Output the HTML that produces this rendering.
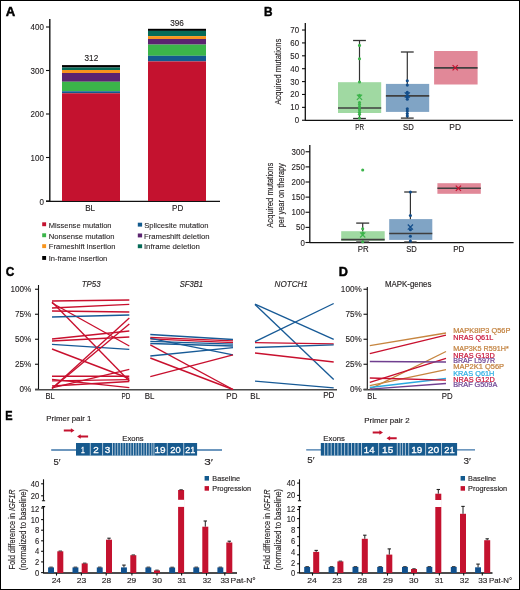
<!DOCTYPE html>
<html><head><meta charset="utf-8"><style>
html,body{margin:0;padding:0;background:#fff;}
body{width:520px;height:590px;overflow:hidden;}
svg{display:block;will-change:transform;}
text{font-family:"Liberation Sans",sans-serif;}
</style></head><body>
<svg width="520" height="590" viewBox="0 0 520 590">
<rect x="0" y="0" width="520" height="590" fill="#fff"/>
<text x="5.87" y="15.80" font-size="12.60" fill="#000" font-weight="bold" stroke="#000" stroke-width="0.45" textLength="9.47" lengthAdjust="spacingAndGlyphs">A</text>
<line x1="49.80" y1="19.00" x2="49.80" y2="201.80" stroke="#111" stroke-width="1.4" />
<line x1="46.00" y1="201.00" x2="49.80" y2="201.00" stroke="#111" stroke-width="1.1" />
<text x="39.46" y="204.80" font-size="8.60" fill="#231f20" stroke="#231f20" stroke-width="0.12" textLength="4.45" lengthAdjust="spacingAndGlyphs">0</text>
<line x1="46.00" y1="157.50" x2="49.80" y2="157.50" stroke="#111" stroke-width="1.1" />
<text x="30.57" y="160.60" font-size="8.60" fill="#231f20" stroke="#231f20" stroke-width="0.12" textLength="13.34" lengthAdjust="spacingAndGlyphs">100</text>
<line x1="46.00" y1="114.00" x2="49.80" y2="114.00" stroke="#111" stroke-width="1.1" />
<text x="30.57" y="117.00" font-size="8.60" fill="#231f20" stroke="#231f20" stroke-width="0.12" textLength="13.34" lengthAdjust="spacingAndGlyphs">200</text>
<line x1="46.00" y1="70.50" x2="49.80" y2="70.50" stroke="#111" stroke-width="1.1" />
<text x="30.57" y="73.50" font-size="8.60" fill="#231f20" stroke="#231f20" stroke-width="0.12" textLength="13.34" lengthAdjust="spacingAndGlyphs">300</text>
<line x1="46.00" y1="27.00" x2="49.80" y2="27.00" stroke="#111" stroke-width="1.1" />
<text x="30.57" y="30.00" font-size="8.60" fill="#231f20" stroke="#231f20" stroke-width="0.12" textLength="13.34" lengthAdjust="spacingAndGlyphs">400</text>
<line x1="46.00" y1="201.30" x2="220.00" y2="201.30" stroke="#111" stroke-width="1.25" />
<rect x="62.00" y="65.10" width="58.00" height="2.40" fill="#000" />
<rect x="62.00" y="67.50" width="58.00" height="2.50" fill="#066b58" />
<rect x="62.00" y="70.00" width="58.00" height="3.00" fill="#f7941d" />
<rect x="62.00" y="73.00" width="58.00" height="8.75" fill="#5b2470" />
<rect x="62.00" y="81.75" width="58.00" height="9.50" fill="#3bb54a" />
<rect x="62.00" y="91.25" width="58.00" height="2.00" fill="#135a8e" />
<rect x="62.00" y="93.25" width="58.00" height="107.75" fill="#c4122f" />
<rect x="148.00" y="28.80" width="58.00" height="2.10" fill="#000" />
<rect x="148.00" y="30.90" width="58.00" height="5.20" fill="#066b58" />
<rect x="148.00" y="36.10" width="58.00" height="2.90" fill="#f7941d" />
<rect x="148.00" y="39.00" width="58.00" height="5.60" fill="#5b2470" />
<rect x="148.00" y="44.60" width="58.00" height="11.20" fill="#3bb54a" />
<rect x="148.00" y="55.80" width="58.00" height="5.60" fill="#135a8e" />
<rect x="148.00" y="61.40" width="58.00" height="139.60" fill="#c4122f" />
<text x="84.54" y="61.30" font-size="8.60" fill="#231f20" stroke="#231f20" stroke-width="0.15" textLength="13.67" lengthAdjust="spacingAndGlyphs">312</text>
<text x="170.19" y="26.10" font-size="8.60" fill="#231f20" stroke="#231f20" stroke-width="0.15" textLength="13.67" lengthAdjust="spacingAndGlyphs">396</text>
<text x="85.13" y="211.00" font-size="9.00" fill="#231f20" stroke="#231f20" stroke-width="0.15" textLength="9.94" lengthAdjust="spacingAndGlyphs">BL</text>
<text x="172.04" y="211.00" font-size="9.00" fill="#231f20" stroke="#231f20" stroke-width="0.15" textLength="11.25" lengthAdjust="spacingAndGlyphs">PD</text>
<rect x="42.20" y="222.30" width="3.90" height="3.90" fill="#c4122f" />
<text x="48.78" y="227.50" font-size="7.80" fill="#231f20" stroke="#231f20" stroke-width="0.1" textLength="62.81" lengthAdjust="spacingAndGlyphs">Missense mutation</text>
<rect x="42.20" y="233.30" width="3.90" height="3.90" fill="#3bb54a" />
<text x="48.77" y="238.50" font-size="7.80" fill="#231f20" stroke="#231f20" stroke-width="0.1" textLength="65.72" lengthAdjust="spacingAndGlyphs">Nonsense mutation</text>
<rect x="42.20" y="244.20" width="3.90" height="3.90" fill="#f7941d" />
<text x="48.78" y="248.70" font-size="7.80" fill="#231f20" stroke="#231f20" stroke-width="0.1" textLength="66.62" lengthAdjust="spacingAndGlyphs">Frameshift insertion</text>
<rect x="42.20" y="256.00" width="3.90" height="3.90" fill="#000" />
<text x="48.71" y="260.60" font-size="7.80" fill="#231f20" stroke="#231f20" stroke-width="0.1" textLength="58.58" lengthAdjust="spacingAndGlyphs">In-frame insertion</text>
<rect x="137.80" y="222.70" width="4.30" height="3.90" fill="#135a8e" />
<text x="144.25" y="227.70" font-size="7.80" fill="#231f20" stroke="#231f20" stroke-width="0.1" textLength="64.24" lengthAdjust="spacingAndGlyphs">Splicesite mutation</text>
<rect x="137.80" y="233.50" width="4.30" height="3.90" fill="#5b2470" />
<text x="143.97" y="238.50" font-size="7.80" fill="#231f20" stroke="#231f20" stroke-width="0.1" textLength="65.53" lengthAdjust="spacingAndGlyphs">Frameshift deletion</text>
<rect x="137.80" y="244.30" width="4.30" height="3.90" fill="#066b58" />
<text x="143.88" y="248.70" font-size="7.80" fill="#231f20" stroke="#231f20" stroke-width="0.1" textLength="56.03" lengthAdjust="spacingAndGlyphs">Inframe deletion</text>
<text x="264.11" y="15.80" font-size="13.00" fill="#000" font-weight="bold" stroke="#000" stroke-width="0.45" textLength="8.53" lengthAdjust="spacingAndGlyphs">B</text>
<line x1="305.30" y1="23.00" x2="305.30" y2="120.80" stroke="#111" stroke-width="1.3" />
<line x1="302.00" y1="120.25" x2="305.30" y2="120.25" stroke="#111" stroke-width="1.1" />
<text x="294.71" y="123.25" font-size="8.50" fill="#231f20" stroke="#231f20" stroke-width="0.12" textLength="4.40" lengthAdjust="spacingAndGlyphs">0</text>
<line x1="302.00" y1="107.36" x2="305.30" y2="107.36" stroke="#111" stroke-width="1.1" />
<text x="290.32" y="110.36" font-size="8.50" fill="#231f20" stroke="#231f20" stroke-width="0.12" textLength="8.79" lengthAdjust="spacingAndGlyphs">10</text>
<line x1="302.00" y1="94.47" x2="305.30" y2="94.47" stroke="#111" stroke-width="1.1" />
<text x="290.32" y="97.47" font-size="8.50" fill="#231f20" stroke="#231f20" stroke-width="0.12" textLength="8.79" lengthAdjust="spacingAndGlyphs">20</text>
<line x1="302.00" y1="81.58" x2="305.30" y2="81.58" stroke="#111" stroke-width="1.1" />
<text x="290.32" y="84.58" font-size="8.50" fill="#231f20" stroke="#231f20" stroke-width="0.12" textLength="8.79" lengthAdjust="spacingAndGlyphs">30</text>
<line x1="302.00" y1="68.69" x2="305.30" y2="68.69" stroke="#111" stroke-width="1.1" />
<text x="290.32" y="71.69" font-size="8.50" fill="#231f20" stroke="#231f20" stroke-width="0.12" textLength="8.79" lengthAdjust="spacingAndGlyphs">40</text>
<line x1="302.00" y1="55.80" x2="305.30" y2="55.80" stroke="#111" stroke-width="1.1" />
<text x="290.32" y="58.80" font-size="8.50" fill="#231f20" stroke="#231f20" stroke-width="0.12" textLength="8.79" lengthAdjust="spacingAndGlyphs">50</text>
<line x1="302.00" y1="42.91" x2="305.30" y2="42.91" stroke="#111" stroke-width="1.1" />
<text x="290.32" y="45.91" font-size="8.50" fill="#231f20" stroke="#231f20" stroke-width="0.12" textLength="8.79" lengthAdjust="spacingAndGlyphs">60</text>
<line x1="302.00" y1="30.02" x2="305.30" y2="30.02" stroke="#111" stroke-width="1.1" />
<text x="290.32" y="33.02" font-size="8.50" fill="#231f20" stroke="#231f20" stroke-width="0.12" textLength="8.79" lengthAdjust="spacingAndGlyphs">70</text>
<line x1="305.00" y1="120.30" x2="513.00" y2="120.30" stroke="#111" stroke-width="1.3" />
<text transform="translate(281.10,104.80) rotate(-90)" x="-0.02" y="0" font-size="9.80" fill="#231f20" stroke="#231f20" stroke-width="0.15" textLength="66.19" lengthAdjust="spacingAndGlyphs">Acquired mutations</text>
<line x1="359.50" y1="40.50" x2="359.50" y2="118.50" stroke="#333" stroke-width="1.2" />
<line x1="353.10" y1="40.50" x2="365.90" y2="40.50" stroke="#333" stroke-width="1.3" />
<line x1="353.10" y1="118.50" x2="365.90" y2="118.50" stroke="#333" stroke-width="1.3" />
<rect x="338.00" y="82.20" width="43.20" height="30.80" fill="#a0d9a2" />
<line x1="338.00" y1="108.00" x2="381.20" y2="108.00" stroke="#3f3f3f" stroke-width="1.7" />
<circle cx="359.50" cy="45.40" r="1.55" fill="#3cb44b"/>
<circle cx="359.50" cy="58.80" r="1.55" fill="#3cb44b"/>
<circle cx="359.50" cy="82.00" r="1.55" fill="#3cb44b"/>
<circle cx="359.50" cy="95.30" r="1.55" fill="#3cb44b"/>
<circle cx="359.50" cy="102.50" r="1.55" fill="#3cb44b"/>
<circle cx="359.50" cy="104.60" r="1.55" fill="#3cb44b"/>
<circle cx="359.50" cy="107.10" r="1.55" fill="#3cb44b"/>
<circle cx="359.50" cy="109.70" r="1.55" fill="#3cb44b"/>
<circle cx="359.50" cy="112.20" r="1.55" fill="#3cb44b"/>
<circle cx="359.50" cy="114.20" r="1.55" fill="#3cb44b"/>
<circle cx="359.50" cy="118.10" r="1.55" fill="#3cb44b"/>
<path d="M356.90,94.70L362.10,99.90M356.90,99.90L362.10,94.70" stroke="#3cb44b" stroke-width="1.2"/>
<line x1="407.30" y1="52.00" x2="407.30" y2="118.10" stroke="#333" stroke-width="1.2" />
<line x1="400.90" y1="52.00" x2="413.70" y2="52.00" stroke="#333" stroke-width="1.3" />
<line x1="400.90" y1="118.10" x2="413.70" y2="118.10" stroke="#333" stroke-width="1.3" />
<rect x="385.90" y="83.90" width="43.30" height="28.00" fill="#80a4c5" />
<line x1="385.90" y1="95.90" x2="429.20" y2="95.90" stroke="#3f3f3f" stroke-width="1.7" />
<circle cx="407.30" cy="80.80" r="1.55" fill="#124d8a"/>
<circle cx="407.30" cy="85.10" r="1.55" fill="#124d8a"/>
<circle cx="407.30" cy="92.40" r="1.55" fill="#124d8a"/>
<circle cx="407.30" cy="97.30" r="1.55" fill="#124d8a"/>
<circle cx="407.30" cy="99.20" r="1.55" fill="#124d8a"/>
<circle cx="407.30" cy="108.80" r="1.55" fill="#124d8a"/>
<circle cx="407.30" cy="111.00" r="1.55" fill="#124d8a"/>
<circle cx="407.30" cy="113.60" r="1.55" fill="#124d8a"/>
<circle cx="407.30" cy="115.90" r="1.55" fill="#124d8a"/>
<path d="M404.70,92.30L409.90,97.50M404.70,97.50L409.90,92.30" stroke="#124d8a" stroke-width="1.2"/>
<rect x="434.10" y="51.00" width="43.50" height="33.50" fill="#e18898" />
<line x1="434.10" y1="67.80" x2="477.60" y2="67.80" stroke="#3f3f3f" stroke-width="1.7" />
<path d="M452.6,65.2L457.8,70.4M452.6,70.4L457.8,65.2" stroke="#c4122f" stroke-width="1.2"/>
<text x="355.23" y="130.20" font-size="9.00" fill="#231f20" stroke="#231f20" stroke-width="0.15" textLength="8.81" lengthAdjust="spacingAndGlyphs">PR</text>
<text x="403.05" y="130.20" font-size="9.00" fill="#231f20" stroke="#231f20" stroke-width="0.15" textLength="10.72" lengthAdjust="spacingAndGlyphs">SD</text>
<text x="449.31" y="130.20" font-size="9.00" fill="#231f20" stroke="#231f20" stroke-width="0.15" textLength="11.69" lengthAdjust="spacingAndGlyphs">PD</text>
<line x1="309.80" y1="145.00" x2="309.80" y2="243.00" stroke="#111" stroke-width="1.3" />
<line x1="305.50" y1="242.50" x2="309.80" y2="242.50" stroke="#111" stroke-width="1.1" />
<text x="300.41" y="245.50" font-size="8.50" fill="#231f20" stroke="#231f20" stroke-width="0.12" textLength="4.40" lengthAdjust="spacingAndGlyphs">0</text>
<line x1="305.50" y1="227.38" x2="309.80" y2="227.38" stroke="#111" stroke-width="1.1" />
<text x="296.02" y="230.38" font-size="8.50" fill="#231f20" stroke="#231f20" stroke-width="0.12" textLength="8.79" lengthAdjust="spacingAndGlyphs">50</text>
<line x1="305.50" y1="212.25" x2="309.80" y2="212.25" stroke="#111" stroke-width="1.1" />
<text x="291.62" y="215.25" font-size="8.50" fill="#231f20" stroke="#231f20" stroke-width="0.12" textLength="13.19" lengthAdjust="spacingAndGlyphs">100</text>
<line x1="305.50" y1="197.12" x2="309.80" y2="197.12" stroke="#111" stroke-width="1.1" />
<text x="291.62" y="200.12" font-size="8.50" fill="#231f20" stroke="#231f20" stroke-width="0.12" textLength="13.19" lengthAdjust="spacingAndGlyphs">150</text>
<line x1="305.50" y1="182.00" x2="309.80" y2="182.00" stroke="#111" stroke-width="1.1" />
<text x="291.62" y="185.00" font-size="8.50" fill="#231f20" stroke="#231f20" stroke-width="0.12" textLength="13.19" lengthAdjust="spacingAndGlyphs">200</text>
<line x1="305.50" y1="166.88" x2="309.80" y2="166.88" stroke="#111" stroke-width="1.1" />
<text x="291.62" y="169.88" font-size="8.50" fill="#231f20" stroke="#231f20" stroke-width="0.12" textLength="13.19" lengthAdjust="spacingAndGlyphs">250</text>
<line x1="305.50" y1="151.75" x2="309.80" y2="151.75" stroke="#111" stroke-width="1.1" />
<text x="291.62" y="154.75" font-size="8.50" fill="#231f20" stroke="#231f20" stroke-width="0.12" textLength="13.19" lengthAdjust="spacingAndGlyphs">300</text>
<line x1="309.50" y1="242.60" x2="513.60" y2="242.60" stroke="#111" stroke-width="1.3" />
<text transform="translate(272.70,227.70) rotate(-90)" x="-0.01" y="0" font-size="9.80" fill="#231f20" stroke="#231f20" stroke-width="0.15" textLength="65.09" lengthAdjust="spacingAndGlyphs">Acquired mutations</text>
<text transform="translate(284.20,226.80) rotate(-90)" x="-0.48" y="0" font-size="9.80" fill="#231f20" stroke="#231f20" stroke-width="0.15" textLength="64.09" lengthAdjust="spacingAndGlyphs">per year on therapy</text>
<line x1="362.70" y1="223.10" x2="362.70" y2="242.00" stroke="#333" stroke-width="1.2" />
<line x1="356.20" y1="223.10" x2="369.20" y2="223.10" stroke="#333" stroke-width="1.3" />
<line x1="356.20" y1="242.00" x2="369.20" y2="242.00" stroke="#333" stroke-width="1.3" />
<rect x="341.20" y="231.20" width="43.50" height="9.40" fill="#a0d9a2" />
<line x1="341.20" y1="239.70" x2="384.70" y2="239.70" stroke="#3f3f3f" stroke-width="1.7" />
<circle cx="362.70" cy="170.00" r="1.55" fill="#3cb44b"/>
<circle cx="362.70" cy="228.80" r="1.55" fill="#3cb44b"/>
<circle cx="362.70" cy="233.10" r="1.55" fill="#3cb44b"/>
<circle cx="362.70" cy="241.80" r="1.55" fill="#3cb44b"/>
<path d="M360.10,232.30L365.30,237.50M360.10,237.50L365.30,232.30" stroke="#3cb44b" stroke-width="1.2"/>
<line x1="410.40" y1="192.00" x2="410.40" y2="242.00" stroke="#333" stroke-width="1.2" />
<line x1="404.20" y1="192.00" x2="416.60" y2="192.00" stroke="#333" stroke-width="1.3" />
<line x1="404.20" y1="242.00" x2="416.60" y2="242.00" stroke="#333" stroke-width="1.3" />
<rect x="389.20" y="219.10" width="43.10" height="20.80" fill="#80a4c5" />
<line x1="389.20" y1="233.50" x2="432.30" y2="233.50" stroke="#3f3f3f" stroke-width="1.7" />
<circle cx="410.40" cy="192.00" r="1.55" fill="#124d8a"/>
<circle cx="410.40" cy="215.50" r="1.55" fill="#124d8a"/>
<circle cx="410.40" cy="229.70" r="1.55" fill="#124d8a"/>
<circle cx="410.40" cy="236.30" r="1.55" fill="#124d8a"/>
<circle cx="410.40" cy="241.00" r="1.55" fill="#124d8a"/>
<path d="M407.80,224.50L413.00,229.70M407.80,229.70L413.00,224.50" stroke="#124d8a" stroke-width="1.2"/>
<rect x="437.40" y="183.20" width="43.40" height="10.60" fill="#e18898" />
<line x1="437.40" y1="188.20" x2="480.80" y2="188.20" stroke="#3f3f3f" stroke-width="1.5" />
<path d="M455.8,185.6L461,190.8M455.8,190.8L461,185.6" stroke="#c4122f" stroke-width="1.2"/>
<text x="357.86" y="252.30" font-size="9.00" fill="#231f20" stroke="#231f20" stroke-width="0.15" textLength="10.91" lengthAdjust="spacingAndGlyphs">PR</text>
<text x="406.25" y="252.30" font-size="9.00" fill="#231f20" stroke="#231f20" stroke-width="0.15" textLength="10.61" lengthAdjust="spacingAndGlyphs">SD</text>
<text x="453.14" y="252.30" font-size="9.00" fill="#231f20" stroke="#231f20" stroke-width="0.15" textLength="11.25" lengthAdjust="spacingAndGlyphs">PD</text>
<text x="5.86" y="276.40" font-size="12.80" fill="#000" font-weight="bold" stroke="#000" stroke-width="0.45" textLength="8.56" lengthAdjust="spacingAndGlyphs">C</text>
<line x1="38.50" y1="285.00" x2="38.50" y2="390.00" stroke="#111" stroke-width="1.1" />
<line x1="35.00" y1="389.25" x2="38.50" y2="389.25" stroke="#111" stroke-width="1.1" />
<text x="19.56" y="392.25" font-size="8.80" fill="#231f20" stroke="#231f20" stroke-width="0.12" textLength="11.83" lengthAdjust="spacingAndGlyphs">0%</text>
<line x1="35.00" y1="364.25" x2="38.50" y2="364.25" stroke="#111" stroke-width="1.1" />
<text x="15.01" y="367.25" font-size="8.80" fill="#231f20" stroke="#231f20" stroke-width="0.12" textLength="16.38" lengthAdjust="spacingAndGlyphs">25%</text>
<line x1="35.00" y1="339.25" x2="38.50" y2="339.25" stroke="#111" stroke-width="1.1" />
<text x="15.01" y="342.25" font-size="8.80" fill="#231f20" stroke="#231f20" stroke-width="0.12" textLength="16.38" lengthAdjust="spacingAndGlyphs">50%</text>
<line x1="35.00" y1="314.25" x2="38.50" y2="314.25" stroke="#111" stroke-width="1.1" />
<text x="15.01" y="317.25" font-size="8.80" fill="#231f20" stroke="#231f20" stroke-width="0.12" textLength="16.38" lengthAdjust="spacingAndGlyphs">75%</text>
<line x1="35.00" y1="289.25" x2="38.50" y2="289.25" stroke="#111" stroke-width="1.1" />
<text x="10.46" y="292.25" font-size="8.80" fill="#231f20" stroke="#231f20" stroke-width="0.12" textLength="20.93" lengthAdjust="spacingAndGlyphs">100%</text>
<line x1="35.00" y1="389.80" x2="337.00" y2="389.80" stroke="#4a4a4a" stroke-width="1.5" />
<text x="81.79" y="286.80" font-size="9.10" fill="#231f20" font-style="italic" stroke="#231f20" stroke-width="0.15" textLength="18.77" lengthAdjust="spacingAndGlyphs">TP53</text>
<text x="179.78" y="286.80" font-size="9.10" fill="#231f20" font-style="italic" stroke="#231f20" stroke-width="0.15" textLength="23.36" lengthAdjust="spacingAndGlyphs">SF3B1</text>
<text x="274.55" y="287.20" font-size="9.10" fill="#231f20" font-style="italic" stroke="#231f20" stroke-width="0.15" textLength="33.33" lengthAdjust="spacingAndGlyphs">NOTCH1</text>
<text x="45.59" y="398.70" font-size="9.00" fill="#231f20" stroke="#231f20" stroke-width="0.15" textLength="9.16" lengthAdjust="spacingAndGlyphs">BL</text>
<text x="121.48" y="398.70" font-size="9.00" fill="#231f20" stroke="#231f20" stroke-width="0.15" textLength="8.83" lengthAdjust="spacingAndGlyphs">PD</text>
<text x="144.85" y="398.70" font-size="9.00" fill="#231f20" stroke="#231f20" stroke-width="0.15" textLength="9.66" lengthAdjust="spacingAndGlyphs">BL</text>
<text x="226.35" y="398.70" font-size="9.00" fill="#231f20" stroke="#231f20" stroke-width="0.15" textLength="11.03" lengthAdjust="spacingAndGlyphs">PD</text>
<text x="250.35" y="398.50" font-size="9.00" fill="#231f20" stroke="#231f20" stroke-width="0.15" textLength="9.72" lengthAdjust="spacingAndGlyphs">BL</text>
<text x="323.13" y="398.30" font-size="9.00" fill="#231f20" stroke="#231f20" stroke-width="0.15" textLength="11.36" lengthAdjust="spacingAndGlyphs">PD</text>
<line x1="52.00" y1="301.00" x2="129.30" y2="300.00" stroke="#c8102e" stroke-width="1.35" />
<line x1="52.00" y1="302.00" x2="129.30" y2="381.00" stroke="#c8102e" stroke-width="1.35" />
<line x1="52.00" y1="303.00" x2="129.30" y2="346.00" stroke="#c8102e" stroke-width="1.35" />
<line x1="52.00" y1="308.00" x2="129.30" y2="304.40" stroke="#c8102e" stroke-width="1.35" />
<line x1="52.00" y1="311.00" x2="129.30" y2="312.00" stroke="#c8102e" stroke-width="1.35" />
<line x1="52.00" y1="317.00" x2="129.30" y2="315.00" stroke="#175a96" stroke-width="1.35" />
<line x1="52.00" y1="339.00" x2="129.30" y2="331.00" stroke="#c8102e" stroke-width="1.35" />
<line x1="52.00" y1="341.00" x2="129.30" y2="337.00" stroke="#c8102e" stroke-width="1.35" />
<line x1="52.00" y1="344.30" x2="129.30" y2="349.40" stroke="#175a96" stroke-width="1.35" />
<line x1="52.00" y1="349.00" x2="129.30" y2="378.50" stroke="#c8102e" stroke-width="1.35" />
<line x1="52.00" y1="376.20" x2="129.30" y2="376.20" stroke="#c8102e" stroke-width="1.35" />
<line x1="52.00" y1="379.30" x2="129.30" y2="387.60" stroke="#c8102e" stroke-width="1.35" />
<line x1="52.00" y1="380.80" x2="129.30" y2="379.60" stroke="#c8102e" stroke-width="1.35" />
<line x1="52.00" y1="386.00" x2="129.30" y2="381.50" stroke="#c8102e" stroke-width="1.35" />
<line x1="52.00" y1="387.80" x2="129.30" y2="369.30" stroke="#c8102e" stroke-width="1.35" />
<line x1="52.00" y1="388.50" x2="129.30" y2="318.00" stroke="#c8102e" stroke-width="1.35" />
<line x1="52.00" y1="388.60" x2="129.30" y2="324.00" stroke="#c8102e" stroke-width="1.35" />
<line x1="150.30" y1="334.50" x2="233.00" y2="339.50" stroke="#175a96" stroke-width="1.35" />
<line x1="150.30" y1="337.30" x2="233.00" y2="340.80" stroke="#c8102e" stroke-width="1.35" />
<line x1="150.30" y1="338.80" x2="233.00" y2="342.60" stroke="#c8102e" stroke-width="1.35" />
<line x1="150.30" y1="338.30" x2="233.00" y2="354.90" stroke="#175a96" stroke-width="1.35" />
<line x1="150.30" y1="341.30" x2="233.00" y2="344.20" stroke="#175a96" stroke-width="1.35" />
<line x1="150.30" y1="343.50" x2="233.00" y2="346.00" stroke="#175a96" stroke-width="1.35" />
<line x1="150.30" y1="344.80" x2="233.00" y2="389.50" stroke="#c8102e" stroke-width="1.35" />
<line x1="150.30" y1="356.00" x2="233.00" y2="347.60" stroke="#175a96" stroke-width="1.35" />
<line x1="150.30" y1="358.00" x2="233.00" y2="389.50" stroke="#c8102e" stroke-width="1.35" />
<line x1="150.30" y1="376.70" x2="233.00" y2="354.90" stroke="#c8102e" stroke-width="1.35" />
<line x1="255.00" y1="304.10" x2="333.70" y2="339.40" stroke="#175a96" stroke-width="1.35" />
<line x1="255.00" y1="304.60" x2="333.70" y2="379.50" stroke="#175a96" stroke-width="1.35" />
<line x1="255.00" y1="341.60" x2="333.70" y2="303.50" stroke="#175a96" stroke-width="1.35" />
<line x1="255.00" y1="342.70" x2="333.70" y2="343.80" stroke="#c8102e" stroke-width="1.35" />
<line x1="255.00" y1="347.50" x2="333.70" y2="344.90" stroke="#175a96" stroke-width="1.35" />
<line x1="255.00" y1="353.00" x2="333.70" y2="362.00" stroke="#c8102e" stroke-width="1.35" />
<line x1="255.00" y1="381.20" x2="333.70" y2="387.80" stroke="#175a96" stroke-width="1.35" />
<text x="338.65" y="275.90" font-size="12.30" fill="#000" font-weight="bold" stroke="#000" stroke-width="0.45" textLength="9.18" lengthAdjust="spacingAndGlyphs">D</text>
<line x1="367.30" y1="287.00" x2="367.30" y2="390.00" stroke="#111" stroke-width="1.1" />
<line x1="363.50" y1="389.25" x2="367.30" y2="389.25" stroke="#111" stroke-width="1.1" />
<text x="349.96" y="392.25" font-size="8.80" fill="#231f20" stroke="#231f20" stroke-width="0.12" textLength="11.83" lengthAdjust="spacingAndGlyphs">0%</text>
<line x1="363.50" y1="364.25" x2="367.30" y2="364.25" stroke="#111" stroke-width="1.1" />
<text x="345.41" y="367.25" font-size="8.80" fill="#231f20" stroke="#231f20" stroke-width="0.12" textLength="16.38" lengthAdjust="spacingAndGlyphs">25%</text>
<line x1="363.50" y1="339.25" x2="367.30" y2="339.25" stroke="#111" stroke-width="1.1" />
<text x="345.41" y="342.25" font-size="8.80" fill="#231f20" stroke="#231f20" stroke-width="0.12" textLength="16.38" lengthAdjust="spacingAndGlyphs">50%</text>
<line x1="363.50" y1="314.25" x2="367.30" y2="314.25" stroke="#111" stroke-width="1.1" />
<text x="345.41" y="317.25" font-size="8.80" fill="#231f20" stroke="#231f20" stroke-width="0.12" textLength="16.38" lengthAdjust="spacingAndGlyphs">75%</text>
<line x1="363.50" y1="289.25" x2="367.30" y2="289.25" stroke="#111" stroke-width="1.1" />
<text x="340.86" y="292.25" font-size="8.80" fill="#231f20" stroke="#231f20" stroke-width="0.12" textLength="20.93" lengthAdjust="spacingAndGlyphs">100%</text>
<line x1="363.50" y1="389.80" x2="450.00" y2="389.80" stroke="#4a4a4a" stroke-width="1.5" />
<text x="384.95" y="286.80" font-size="8.70" fill="#231f20" stroke="#231f20" stroke-width="0.15" textLength="46.43" lengthAdjust="spacingAndGlyphs">MAPK-genes</text>
<text x="367.37" y="398.90" font-size="9.00" fill="#231f20" stroke="#231f20" stroke-width="0.15" textLength="9.38" lengthAdjust="spacingAndGlyphs">BL</text>
<text x="441.86" y="398.90" font-size="9.00" fill="#231f20" stroke="#231f20" stroke-width="0.15" textLength="10.81" lengthAdjust="spacingAndGlyphs">PD</text>
<line x1="369.80" y1="345.60" x2="446.00" y2="333.00" stroke="#c6853f" stroke-width="1.35" />
<line x1="369.80" y1="353.70" x2="446.00" y2="335.20" stroke="#c8102e" stroke-width="1.35" />
<line x1="369.80" y1="389.20" x2="446.00" y2="351.50" stroke="#c6853f" stroke-width="1.35" />
<line x1="369.80" y1="382.30" x2="446.00" y2="358.40" stroke="#c8102e" stroke-width="1.35" />
<line x1="369.80" y1="361.50" x2="446.00" y2="362.00" stroke="#6f3f8f" stroke-width="1.35" />
<line x1="369.80" y1="385.70" x2="446.00" y2="369.70" stroke="#c6853f" stroke-width="1.35" />
<line x1="369.80" y1="387.50" x2="446.00" y2="378.50" stroke="#29aae1" stroke-width="1.35" />
<line x1="369.80" y1="378.00" x2="446.00" y2="380.20" stroke="#c8102e" stroke-width="1.35" />
<line x1="369.80" y1="389.20" x2="446.00" y2="383.50" stroke="#6f3f8f" stroke-width="1.35" />
<text x="453.19" y="333.10" font-size="7.40" fill="#c3823f" stroke="#c3823f" stroke-width="0.22" textLength="57.20" lengthAdjust="spacingAndGlyphs">MAPK8IP3 Q56P</text>
<text x="453.20" y="339.50" font-size="7.40" fill="#c8163a" stroke="#c8163a" stroke-width="0.22" textLength="40.04" lengthAdjust="spacingAndGlyphs">NRAS Q61L</text>
<text x="453.21" y="351.25" font-size="7.40" fill="#c3823f" stroke="#c3823f" stroke-width="0.22" textLength="55.65" lengthAdjust="spacingAndGlyphs">MAP3K5 R591H*</text>
<text x="453.20" y="357.50" font-size="7.40" fill="#c8163a" stroke="#c8163a" stroke-width="0.22" textLength="41.55" lengthAdjust="spacingAndGlyphs">NRAS G13D</text>
<text x="453.22" y="363.40" font-size="7.40" fill="#6e4494" stroke="#6e4494" stroke-width="0.22" textLength="41.86" lengthAdjust="spacingAndGlyphs">BRAF L597R</text>
<text x="453.18" y="369.40" font-size="7.40" fill="#c3823f" stroke="#c3823f" stroke-width="0.22" textLength="50.96" lengthAdjust="spacingAndGlyphs">MAP2K1 Q56P</text>
<text x="453.20" y="375.60" font-size="7.40" fill="#2caee3" stroke="#2caee3" stroke-width="0.22" textLength="41.15" lengthAdjust="spacingAndGlyphs">KRAS Q61H</text>
<text x="453.20" y="381.50" font-size="7.40" fill="#c8163a" stroke="#c8163a" stroke-width="0.22" textLength="41.55" lengthAdjust="spacingAndGlyphs">NRAS G12D</text>
<text x="453.20" y="387.25" font-size="7.40" fill="#6e4494" stroke="#6e4494" stroke-width="0.22" textLength="44.06" lengthAdjust="spacingAndGlyphs">BRAF G509A</text>
<text x="5.33" y="420.10" font-size="12.40" fill="#000" font-weight="bold" stroke="#000" stroke-width="0.45" textLength="7.30" lengthAdjust="spacingAndGlyphs">E</text>
<line x1="51.20" y1="450.00" x2="222.00" y2="450.00" stroke="#3d74a8" stroke-width="1.3" />
<rect x="76.00" y="443.00" width="121.10" height="12.60" fill="#175a8e" />
<line x1="90.30" y1="443.00" x2="90.30" y2="455.60" stroke="#dfe8f0" stroke-width="0.75" />
<line x1="102.60" y1="443.00" x2="102.60" y2="455.60" stroke="#dfe8f0" stroke-width="0.75" />
<line x1="112.50" y1="443.00" x2="112.50" y2="455.60" stroke="#dfe8f0" stroke-width="0.75" />
<line x1="115.12" y1="443.00" x2="115.12" y2="455.60" stroke="#dfe8f0" stroke-width="0.75" />
<line x1="117.74" y1="443.00" x2="117.74" y2="455.60" stroke="#dfe8f0" stroke-width="0.75" />
<line x1="120.36" y1="443.00" x2="120.36" y2="455.60" stroke="#dfe8f0" stroke-width="0.75" />
<line x1="122.98" y1="443.00" x2="122.98" y2="455.60" stroke="#dfe8f0" stroke-width="0.75" />
<line x1="125.60" y1="443.00" x2="125.60" y2="455.60" stroke="#dfe8f0" stroke-width="0.75" />
<line x1="128.22" y1="443.00" x2="128.22" y2="455.60" stroke="#dfe8f0" stroke-width="0.75" />
<line x1="130.84" y1="443.00" x2="130.84" y2="455.60" stroke="#dfe8f0" stroke-width="0.75" />
<line x1="133.46" y1="443.00" x2="133.46" y2="455.60" stroke="#dfe8f0" stroke-width="0.75" />
<line x1="136.08" y1="443.00" x2="136.08" y2="455.60" stroke="#dfe8f0" stroke-width="0.75" />
<line x1="138.70" y1="443.00" x2="138.70" y2="455.60" stroke="#dfe8f0" stroke-width="0.75" />
<line x1="141.32" y1="443.00" x2="141.32" y2="455.60" stroke="#dfe8f0" stroke-width="0.75" />
<line x1="143.94" y1="443.00" x2="143.94" y2="455.60" stroke="#dfe8f0" stroke-width="0.75" />
<line x1="146.56" y1="443.00" x2="146.56" y2="455.60" stroke="#dfe8f0" stroke-width="0.75" />
<line x1="149.18" y1="443.00" x2="149.18" y2="455.60" stroke="#dfe8f0" stroke-width="0.75" />
<line x1="151.80" y1="443.00" x2="151.80" y2="455.60" stroke="#dfe8f0" stroke-width="0.75" />
<line x1="153.90" y1="443.00" x2="153.90" y2="455.60" stroke="#dfe8f0" stroke-width="0.75" />
<line x1="167.30" y1="443.00" x2="167.30" y2="455.60" stroke="#dfe8f0" stroke-width="0.75" />
<line x1="183.70" y1="443.00" x2="183.70" y2="455.60" stroke="#dfe8f0" stroke-width="0.75" />
<text x="80.99" y="452.70" font-size="9.60" fill="#fff" stroke="#fff" stroke-width="0.3" textLength="3.74" lengthAdjust="spacingAndGlyphs">1</text>
<text x="93.20" y="452.70" font-size="9.60" fill="#fff" stroke="#fff" stroke-width="0.3" textLength="5.49" lengthAdjust="spacingAndGlyphs">2</text>
<text x="104.87" y="452.70" font-size="9.60" fill="#fff" stroke="#fff" stroke-width="0.3" textLength="5.57" lengthAdjust="spacingAndGlyphs">3</text>
<text x="154.54" y="452.70" font-size="9.60" fill="#fff" stroke="#fff" stroke-width="0.3" textLength="11.14" lengthAdjust="spacingAndGlyphs">19</text>
<text x="170.23" y="452.70" font-size="9.60" fill="#fff" stroke="#fff" stroke-width="0.3" textLength="10.44" lengthAdjust="spacingAndGlyphs">20</text>
<text x="185.15" y="452.70" font-size="9.60" fill="#fff" stroke="#fff" stroke-width="0.3" textLength="9.99" lengthAdjust="spacingAndGlyphs">21</text>
<text x="46.35" y="421.00" font-size="8.00" fill="#231f20" stroke="#231f20" stroke-width="0.15" textLength="45.03" lengthAdjust="spacingAndGlyphs">Primer pair 1</text>
<text x="122.27" y="440.60" font-size="7.90" fill="#231f20" stroke="#231f20" stroke-width="0.15" textLength="21.41" lengthAdjust="spacingAndGlyphs">Exons</text>
<text x="53.52" y="464.70" font-size="9.70" fill="#231f20" stroke="#231f20" stroke-width="0.15" textLength="7.06" lengthAdjust="spacingAndGlyphs">5′</text>
<text x="204.25" y="464.70" font-size="9.70" fill="#231f20" stroke="#231f20" stroke-width="0.15" textLength="8.77" lengthAdjust="spacingAndGlyphs">3′</text>
<path d="M63.80,429.50H70.90V428.20L74.50,430.50L70.90,432.80V431.50H63.80Z" fill="#c4122f"/>
<path d="M88.10,435.50H80.70V434.20L77.10,436.50L80.70,438.80V437.50H88.10Z" fill="#c4122f"/>
<line x1="306.20" y1="449.80" x2="475.00" y2="449.80" stroke="#3d74a8" stroke-width="1.3" />
<rect x="320.80" y="443.00" width="136.30" height="12.60" fill="#175a8e" />
<line x1="324.60" y1="443.00" x2="324.60" y2="455.60" stroke="#dfe8f0" stroke-width="0.75" />
<line x1="327.90" y1="443.00" x2="327.90" y2="455.60" stroke="#dfe8f0" stroke-width="0.75" />
<line x1="331.20" y1="443.00" x2="331.20" y2="455.60" stroke="#dfe8f0" stroke-width="0.75" />
<line x1="334.60" y1="443.00" x2="334.60" y2="455.60" stroke="#dfe8f0" stroke-width="0.75" />
<line x1="337.90" y1="443.00" x2="337.90" y2="455.60" stroke="#dfe8f0" stroke-width="0.75" />
<line x1="341.30" y1="443.00" x2="341.30" y2="455.60" stroke="#dfe8f0" stroke-width="0.75" />
<line x1="344.60" y1="443.00" x2="344.60" y2="455.60" stroke="#dfe8f0" stroke-width="0.75" />
<line x1="348.10" y1="443.00" x2="348.10" y2="455.60" stroke="#dfe8f0" stroke-width="0.75" />
<line x1="351.50" y1="443.00" x2="351.50" y2="455.60" stroke="#dfe8f0" stroke-width="0.75" />
<line x1="354.80" y1="443.00" x2="354.80" y2="455.60" stroke="#dfe8f0" stroke-width="0.75" />
<line x1="358.10" y1="443.00" x2="358.10" y2="455.60" stroke="#dfe8f0" stroke-width="0.75" />
<line x1="361.50" y1="443.00" x2="361.50" y2="455.60" stroke="#dfe8f0" stroke-width="0.75" />
<line x1="378.60" y1="443.00" x2="378.60" y2="455.60" stroke="#dfe8f0" stroke-width="0.75" />
<line x1="397.30" y1="443.00" x2="397.30" y2="455.60" stroke="#dfe8f0" stroke-width="0.75" />
<line x1="400.20" y1="443.00" x2="400.20" y2="455.60" stroke="#dfe8f0" stroke-width="0.75" />
<line x1="402.60" y1="443.00" x2="402.60" y2="455.60" stroke="#dfe8f0" stroke-width="0.75" />
<line x1="405.40" y1="443.00" x2="405.40" y2="455.60" stroke="#dfe8f0" stroke-width="0.75" />
<line x1="408.70" y1="443.00" x2="408.70" y2="455.60" stroke="#dfe8f0" stroke-width="0.75" />
<line x1="425.60" y1="443.00" x2="425.60" y2="455.60" stroke="#dfe8f0" stroke-width="0.75" />
<line x1="441.50" y1="443.00" x2="441.50" y2="455.60" stroke="#dfe8f0" stroke-width="0.75" />
<text x="363.87" y="452.70" font-size="9.60" fill="#fff" stroke="#fff" stroke-width="0.3" textLength="10.61" lengthAdjust="spacingAndGlyphs">14</text>
<text x="382.14" y="452.70" font-size="9.60" fill="#fff" stroke="#fff" stroke-width="0.3" textLength="11.08" lengthAdjust="spacingAndGlyphs">15</text>
<text x="411.15" y="452.70" font-size="9.60" fill="#fff" stroke="#fff" stroke-width="0.3" textLength="11.02" lengthAdjust="spacingAndGlyphs">19</text>
<text x="427.78" y="452.70" font-size="9.60" fill="#fff" stroke="#fff" stroke-width="0.3" textLength="11.53" lengthAdjust="spacingAndGlyphs">20</text>
<text x="444.23" y="452.70" font-size="9.60" fill="#fff" stroke="#fff" stroke-width="0.3" textLength="10.43" lengthAdjust="spacingAndGlyphs">21</text>
<text x="364.35" y="422.80" font-size="8.00" fill="#231f20" stroke="#231f20" stroke-width="0.15" textLength="45.25" lengthAdjust="spacingAndGlyphs">Primer pair 2</text>
<text x="323.36" y="440.60" font-size="7.90" fill="#231f20" stroke="#231f20" stroke-width="0.15" textLength="21.51" lengthAdjust="spacingAndGlyphs">Exons</text>
<text x="307.31" y="462.90" font-size="9.70" fill="#231f20" stroke="#231f20" stroke-width="0.15" textLength="7.28" lengthAdjust="spacingAndGlyphs">5′</text>
<text x="463.62" y="463.70" font-size="9.70" fill="#231f20" stroke="#231f20" stroke-width="0.15" textLength="7.37" lengthAdjust="spacingAndGlyphs">3′</text>
<path d="M372.70,431.50H379.40V430.20L383.00,432.50L379.40,434.80V433.50H372.70Z" fill="#c4122f"/>
<path d="M396.70,437.30H390.10V436.00L386.50,438.30L390.10,440.60V439.30H396.70Z" fill="#c4122f"/>
<line x1="43.50" y1="479.30" x2="43.50" y2="500.80" stroke="#111" stroke-width="1.1" />
<line x1="43.50" y1="506.60" x2="43.50" y2="573.50" stroke="#111" stroke-width="1.1" />
<path d="M41.90,500.80H45.10M41.90,506.60H45.10" stroke="#111" stroke-width="1.1"/>
<line x1="41.10" y1="483.80" x2="43.50" y2="483.80" stroke="#111" stroke-width="1.1" />
<text x="30.72" y="486.70" font-size="8.20" fill="#231f20" stroke="#231f20" stroke-width="0.12" textLength="8.48" lengthAdjust="spacingAndGlyphs">40</text>
<line x1="41.10" y1="495.80" x2="43.50" y2="495.80" stroke="#111" stroke-width="1.1" />
<text x="30.72" y="498.70" font-size="8.20" fill="#231f20" stroke="#231f20" stroke-width="0.12" textLength="8.48" lengthAdjust="spacingAndGlyphs">20</text>
<line x1="41.10" y1="508.00" x2="43.50" y2="508.00" stroke="#111" stroke-width="1.1" />
<line x1="41.10" y1="519.60" x2="43.50" y2="519.60" stroke="#111" stroke-width="1.1" />
<line x1="41.10" y1="530.20" x2="43.50" y2="530.20" stroke="#111" stroke-width="1.1" />
<line x1="41.10" y1="540.80" x2="43.50" y2="540.80" stroke="#111" stroke-width="1.1" />
<line x1="41.10" y1="551.30" x2="43.50" y2="551.30" stroke="#111" stroke-width="1.1" />
<line x1="41.10" y1="561.90" x2="43.50" y2="561.90" stroke="#111" stroke-width="1.1" />
<line x1="41.10" y1="572.60" x2="43.50" y2="572.60" stroke="#111" stroke-width="1.1" />
<text x="30.80" y="511.90" font-size="8.20" fill="#231f20" stroke="#231f20" stroke-width="0.12" textLength="8.48" lengthAdjust="spacingAndGlyphs">12</text>
<text x="30.72" y="522.70" font-size="8.20" fill="#231f20" stroke="#231f20" stroke-width="0.12" textLength="8.48" lengthAdjust="spacingAndGlyphs">10</text>
<text x="34.99" y="533.30" font-size="8.20" fill="#231f20" stroke="#231f20" stroke-width="0.12" textLength="4.24" lengthAdjust="spacingAndGlyphs">8</text>
<text x="34.99" y="544.00" font-size="8.20" fill="#231f20" stroke="#231f20" stroke-width="0.12" textLength="4.24" lengthAdjust="spacingAndGlyphs">6</text>
<text x="34.88" y="554.20" font-size="8.20" fill="#231f20" stroke="#231f20" stroke-width="0.12" textLength="4.24" lengthAdjust="spacingAndGlyphs">4</text>
<text x="35.04" y="564.80" font-size="8.20" fill="#231f20" stroke="#231f20" stroke-width="0.12" textLength="4.24" lengthAdjust="spacingAndGlyphs">2</text>
<text x="34.96" y="575.50" font-size="8.20" fill="#231f20" stroke="#231f20" stroke-width="0.12" textLength="4.24" lengthAdjust="spacingAndGlyphs">0</text>
<line x1="43.50" y1="573.00" x2="237.00" y2="573.00" stroke="#111" stroke-width="1.3" />
<rect x="48.10" y="567.40" width="5.90" height="5.60" fill="#10508d" />
<line x1="49.30" y1="567.10" x2="52.80" y2="567.10" stroke="#222" stroke-width="0.9" />
<rect x="57.30" y="551.30" width="6.00" height="21.70" fill="#c4122f" />
<line x1="58.60" y1="551.00" x2="62.00" y2="551.00" stroke="#222" stroke-width="0.9" />
<rect x="72.50" y="567.40" width="5.90" height="5.60" fill="#10508d" />
<line x1="73.70" y1="567.10" x2="77.20" y2="567.10" stroke="#222" stroke-width="0.9" />
<rect x="81.70" y="563.40" width="6.00" height="9.60" fill="#c4122f" />
<line x1="83.00" y1="563.10" x2="86.40" y2="563.10" stroke="#222" stroke-width="0.9" />
<rect x="96.80" y="567.40" width="5.90" height="5.60" fill="#10508d" />
<line x1="98.00" y1="567.10" x2="101.50" y2="567.10" stroke="#222" stroke-width="0.9" />
<rect x="106.00" y="539.70" width="6.00" height="33.30" fill="#c4122f" />
<line x1="109.00" y1="538.20" x2="109.00" y2="539.70" stroke="#222" stroke-width="1" />
<line x1="107.30" y1="538.20" x2="110.70" y2="538.20" stroke="#222" stroke-width="1.1" />
<rect x="121.00" y="567.40" width="5.90" height="5.60" fill="#10508d" />
<line x1="123.95" y1="565.10" x2="123.95" y2="567.40" stroke="#222" stroke-width="1" />
<line x1="122.20" y1="565.10" x2="125.70" y2="565.10" stroke="#222" stroke-width="1.1" />
<rect x="130.30" y="555.20" width="6.00" height="17.80" fill="#c4122f" />
<line x1="131.60" y1="554.90" x2="135.00" y2="554.90" stroke="#222" stroke-width="0.9" />
<rect x="145.40" y="567.40" width="5.90" height="5.60" fill="#10508d" />
<line x1="146.60" y1="567.10" x2="150.10" y2="567.10" stroke="#222" stroke-width="0.9" />
<rect x="154.00" y="570.40" width="6.00" height="2.60" fill="#c4122f" />
<line x1="155.30" y1="570.10" x2="158.70" y2="570.10" stroke="#222" stroke-width="0.9" />
<rect x="169.20" y="567.50" width="5.90" height="5.50" fill="#10508d" />
<line x1="170.40" y1="567.20" x2="173.90" y2="567.20" stroke="#222" stroke-width="0.9" />
<rect x="178.10" y="490.00" width="6.00" height="83.00" fill="#c4122f" />
<line x1="179.40" y1="489.70" x2="182.80" y2="489.70" stroke="#222" stroke-width="0.9" />
<rect x="177.60" y="499.80" width="7.00" height="7.10" fill="#fff" />
<rect x="193.30" y="567.40" width="5.90" height="5.60" fill="#10508d" />
<line x1="194.50" y1="567.10" x2="198.00" y2="567.10" stroke="#222" stroke-width="0.9" />
<rect x="202.30" y="526.70" width="6.00" height="46.30" fill="#c4122f" />
<line x1="205.30" y1="521.00" x2="205.30" y2="526.70" stroke="#222" stroke-width="1" />
<line x1="203.60" y1="521.00" x2="207.00" y2="521.00" stroke="#222" stroke-width="1.1" />
<rect x="217.40" y="567.40" width="5.90" height="5.60" fill="#10508d" />
<line x1="218.60" y1="567.10" x2="222.10" y2="567.10" stroke="#222" stroke-width="0.9" />
<rect x="226.30" y="542.50" width="6.00" height="30.50" fill="#c4122f" />
<line x1="229.30" y1="541.20" x2="229.30" y2="542.50" stroke="#222" stroke-width="1" />
<line x1="227.60" y1="541.20" x2="231.00" y2="541.20" stroke="#222" stroke-width="1.1" />
<line x1="56.50" y1="573.00" x2="56.50" y2="575.60" stroke="#111" stroke-width="1.1" />
<line x1="81.40" y1="573.00" x2="81.40" y2="575.60" stroke="#111" stroke-width="1.1" />
<line x1="106.20" y1="573.00" x2="106.20" y2="575.60" stroke="#111" stroke-width="1.1" />
<line x1="131.90" y1="573.00" x2="131.90" y2="575.60" stroke="#111" stroke-width="1.1" />
<line x1="157.00" y1="573.00" x2="157.00" y2="575.60" stroke="#111" stroke-width="1.1" />
<line x1="181.60" y1="573.00" x2="181.60" y2="575.60" stroke="#111" stroke-width="1.1" />
<line x1="206.50" y1="573.00" x2="206.50" y2="575.60" stroke="#111" stroke-width="1.1" />
<line x1="224.80" y1="573.00" x2="224.80" y2="575.60" stroke="#111" stroke-width="1.1" />
<text x="51.68" y="583.20" font-size="8.10" fill="#231f20" stroke="#231f20" stroke-width="0.15" textLength="9.37" lengthAdjust="spacingAndGlyphs">24</text>
<text x="76.87" y="583.20" font-size="8.10" fill="#231f20" stroke="#231f20" stroke-width="0.15" textLength="9.51" lengthAdjust="spacingAndGlyphs">23</text>
<text x="101.78" y="583.20" font-size="8.10" fill="#231f20" stroke="#231f20" stroke-width="0.15" textLength="9.28" lengthAdjust="spacingAndGlyphs">28</text>
<text x="126.98" y="583.20" font-size="8.10" fill="#231f20" stroke="#231f20" stroke-width="0.15" textLength="9.32" lengthAdjust="spacingAndGlyphs">29</text>
<text x="152.37" y="583.20" font-size="8.10" fill="#231f20" stroke="#231f20" stroke-width="0.15" textLength="9.56" lengthAdjust="spacingAndGlyphs">30</text>
<text x="177.40" y="583.20" font-size="8.10" fill="#231f20" stroke="#231f20" stroke-width="0.15" textLength="8.90" lengthAdjust="spacingAndGlyphs">31</text>
<text x="202.71" y="583.20" font-size="8.10" fill="#231f20" stroke="#231f20" stroke-width="0.15" textLength="8.58" lengthAdjust="spacingAndGlyphs">32</text>
<text x="220.39" y="583.20" font-size="8.10" fill="#231f20" stroke="#231f20" stroke-width="0.15" textLength="8.96" lengthAdjust="spacingAndGlyphs">33</text>
<rect x="204.60" y="476.00" width="4.40" height="4.60" fill="#135a8e" />
<text x="212.31" y="481.20" font-size="7.60" fill="#231f20" stroke="#231f20" stroke-width="0.15" textLength="27.82" lengthAdjust="spacingAndGlyphs">Baseline</text>
<rect x="204.60" y="486.10" width="4.40" height="4.60" fill="#c4122f" />
<text x="212.30" y="491.40" font-size="7.60" fill="#231f20" stroke="#231f20" stroke-width="0.15" textLength="38.87" lengthAdjust="spacingAndGlyphs">Progression</text>
<text x="230.60" y="583.20" font-size="8.10" fill="#231f20" stroke="#231f20" stroke-width="0.15" textLength="25.11" lengthAdjust="spacingAndGlyphs">Pat-N°</text>
<text transform="translate(14.70,569.00) rotate(-90)" x="-0.60" y="0" font-size="9.60" fill="#231f20" stroke="#231f20" stroke-width="0.15" textLength="80.25" lengthAdjust="spacingAndGlyphs">Fold difference in <tspan font-style="italic">IGF1R</tspan></text>
<text transform="translate(26.30,569.90) rotate(-90)" x="-0.47" y="0" font-size="9.60" fill="#231f20" stroke="#231f20" stroke-width="0.15" textLength="81.45" lengthAdjust="spacingAndGlyphs">(normalized to baseline)</text>
<line x1="299.50" y1="479.30" x2="299.50" y2="500.80" stroke="#111" stroke-width="1.1" />
<line x1="299.50" y1="506.60" x2="299.50" y2="573.50" stroke="#111" stroke-width="1.1" />
<path d="M297.90,500.80H301.10M297.90,506.60H301.10" stroke="#111" stroke-width="1.1"/>
<line x1="297.10" y1="483.10" x2="299.50" y2="483.10" stroke="#111" stroke-width="1.1" />
<text x="286.72" y="486.00" font-size="8.20" fill="#231f20" stroke="#231f20" stroke-width="0.12" textLength="8.48" lengthAdjust="spacingAndGlyphs">40</text>
<line x1="297.10" y1="495.40" x2="299.50" y2="495.40" stroke="#111" stroke-width="1.1" />
<text x="286.72" y="498.30" font-size="8.20" fill="#231f20" stroke="#231f20" stroke-width="0.12" textLength="8.48" lengthAdjust="spacingAndGlyphs">20</text>
<line x1="297.10" y1="509.50" x2="299.50" y2="509.50" stroke="#111" stroke-width="1.1" />
<line x1="297.10" y1="518.60" x2="299.50" y2="518.60" stroke="#111" stroke-width="1.1" />
<line x1="297.10" y1="527.60" x2="299.50" y2="527.60" stroke="#111" stroke-width="1.1" />
<line x1="297.10" y1="536.70" x2="299.50" y2="536.70" stroke="#111" stroke-width="1.1" />
<line x1="297.10" y1="545.70" x2="299.50" y2="545.70" stroke="#111" stroke-width="1.1" />
<line x1="297.10" y1="554.80" x2="299.50" y2="554.80" stroke="#111" stroke-width="1.1" />
<line x1="297.10" y1="563.80" x2="299.50" y2="563.80" stroke="#111" stroke-width="1.1" />
<line x1="297.10" y1="572.80" x2="299.50" y2="572.80" stroke="#111" stroke-width="1.1" />
<text x="286.80" y="512.20" font-size="8.20" fill="#231f20" stroke="#231f20" stroke-width="0.12" textLength="8.48" lengthAdjust="spacingAndGlyphs">12</text>
<text x="286.72" y="521.90" font-size="8.20" fill="#231f20" stroke="#231f20" stroke-width="0.12" textLength="8.48" lengthAdjust="spacingAndGlyphs">10</text>
<text x="290.99" y="532.50" font-size="8.20" fill="#231f20" stroke="#231f20" stroke-width="0.12" textLength="4.24" lengthAdjust="spacingAndGlyphs">8</text>
<text x="290.99" y="543.60" font-size="8.20" fill="#231f20" stroke="#231f20" stroke-width="0.12" textLength="4.24" lengthAdjust="spacingAndGlyphs">6</text>
<text x="290.88" y="555.10" font-size="8.20" fill="#231f20" stroke="#231f20" stroke-width="0.12" textLength="4.24" lengthAdjust="spacingAndGlyphs">4</text>
<text x="291.04" y="565.50" font-size="8.20" fill="#231f20" stroke="#231f20" stroke-width="0.12" textLength="4.24" lengthAdjust="spacingAndGlyphs">2</text>
<text x="290.96" y="575.70" font-size="8.20" fill="#231f20" stroke="#231f20" stroke-width="0.12" textLength="4.24" lengthAdjust="spacingAndGlyphs">0</text>
<line x1="299.50" y1="573.00" x2="492.50" y2="573.00" stroke="#111" stroke-width="1.3" />
<rect x="304.20" y="566.90" width="5.90" height="6.10" fill="#10508d" />
<line x1="305.40" y1="566.60" x2="308.90" y2="566.60" stroke="#222" stroke-width="0.9" />
<rect x="313.20" y="551.90" width="6.00" height="21.10" fill="#c4122f" />
<line x1="316.20" y1="550.40" x2="316.20" y2="551.90" stroke="#222" stroke-width="1" />
<line x1="314.50" y1="550.40" x2="317.90" y2="550.40" stroke="#222" stroke-width="1.1" />
<rect x="328.60" y="566.90" width="5.90" height="6.10" fill="#10508d" />
<line x1="329.80" y1="566.60" x2="333.30" y2="566.60" stroke="#222" stroke-width="0.9" />
<rect x="337.40" y="561.40" width="6.00" height="11.60" fill="#c4122f" />
<line x1="338.70" y1="561.10" x2="342.10" y2="561.10" stroke="#222" stroke-width="0.9" />
<rect x="352.50" y="566.90" width="5.90" height="6.10" fill="#10508d" />
<line x1="353.70" y1="566.60" x2="357.20" y2="566.60" stroke="#222" stroke-width="0.9" />
<rect x="361.80" y="538.80" width="6.00" height="34.20" fill="#c4122f" />
<line x1="364.80" y1="535.20" x2="364.80" y2="538.80" stroke="#222" stroke-width="1" />
<line x1="363.10" y1="535.20" x2="366.50" y2="535.20" stroke="#222" stroke-width="1.1" />
<rect x="377.20" y="566.90" width="5.90" height="6.10" fill="#10508d" />
<line x1="378.40" y1="566.60" x2="381.90" y2="566.60" stroke="#222" stroke-width="0.9" />
<rect x="386.30" y="554.60" width="6.00" height="18.40" fill="#c4122f" />
<line x1="389.30" y1="548.90" x2="389.30" y2="554.60" stroke="#222" stroke-width="1" />
<line x1="387.60" y1="548.90" x2="391.00" y2="548.90" stroke="#222" stroke-width="1.1" />
<rect x="402.00" y="566.90" width="5.90" height="6.10" fill="#10508d" />
<line x1="403.20" y1="566.60" x2="406.70" y2="566.60" stroke="#222" stroke-width="0.9" />
<rect x="411.00" y="569.00" width="6.00" height="4.00" fill="#c4122f" />
<line x1="412.30" y1="568.70" x2="415.70" y2="568.70" stroke="#222" stroke-width="0.9" />
<rect x="426.40" y="566.90" width="5.90" height="6.10" fill="#10508d" />
<line x1="427.60" y1="566.60" x2="431.10" y2="566.60" stroke="#222" stroke-width="0.9" />
<rect x="435.30" y="493.70" width="6.00" height="79.30" fill="#c4122f" />
<line x1="438.30" y1="489.50" x2="438.30" y2="493.70" stroke="#222" stroke-width="1" />
<line x1="436.60" y1="489.50" x2="440.00" y2="489.50" stroke="#222" stroke-width="1.1" />
<rect x="434.80" y="500.00" width="7.00" height="7.00" fill="#fff" />
<rect x="450.80" y="566.90" width="5.90" height="6.10" fill="#10508d" />
<line x1="452.00" y1="566.60" x2="455.50" y2="566.60" stroke="#222" stroke-width="0.9" />
<rect x="460.00" y="513.80" width="6.00" height="59.20" fill="#c4122f" />
<line x1="463.00" y1="506.40" x2="463.00" y2="513.80" stroke="#222" stroke-width="1" />
<line x1="461.30" y1="506.40" x2="464.70" y2="506.40" stroke="#222" stroke-width="1.1" />
<rect x="475.10" y="567.30" width="5.90" height="5.70" fill="#10508d" />
<line x1="478.05" y1="564.10" x2="478.05" y2="567.30" stroke="#222" stroke-width="1" />
<line x1="476.30" y1="564.10" x2="479.80" y2="564.10" stroke="#222" stroke-width="1.1" />
<rect x="484.20" y="540.20" width="6.00" height="32.80" fill="#c4122f" />
<line x1="487.20" y1="538.80" x2="487.20" y2="540.20" stroke="#222" stroke-width="1" />
<line x1="485.50" y1="538.80" x2="488.90" y2="538.80" stroke="#222" stroke-width="1.1" />
<line x1="312.50" y1="573.00" x2="312.50" y2="575.60" stroke="#111" stroke-width="1.1" />
<line x1="337.40" y1="573.00" x2="337.40" y2="575.60" stroke="#111" stroke-width="1.1" />
<line x1="362.20" y1="573.00" x2="362.20" y2="575.60" stroke="#111" stroke-width="1.1" />
<line x1="387.50" y1="573.00" x2="387.50" y2="575.60" stroke="#111" stroke-width="1.1" />
<line x1="413.70" y1="573.00" x2="413.70" y2="575.60" stroke="#111" stroke-width="1.1" />
<line x1="439.40" y1="573.00" x2="439.40" y2="575.60" stroke="#111" stroke-width="1.1" />
<line x1="463.70" y1="573.00" x2="463.70" y2="575.60" stroke="#111" stroke-width="1.1" />
<line x1="482.30" y1="573.00" x2="482.30" y2="575.60" stroke="#111" stroke-width="1.1" />
<text x="307.27" y="583.20" font-size="8.10" fill="#231f20" stroke="#231f20" stroke-width="0.15" textLength="9.59" lengthAdjust="spacingAndGlyphs">24</text>
<text x="332.27" y="583.20" font-size="8.10" fill="#231f20" stroke="#231f20" stroke-width="0.15" textLength="9.51" lengthAdjust="spacingAndGlyphs">23</text>
<text x="357.57" y="583.20" font-size="8.10" fill="#231f20" stroke="#231f20" stroke-width="0.15" textLength="9.50" lengthAdjust="spacingAndGlyphs">28</text>
<text x="382.95" y="583.20" font-size="8.10" fill="#231f20" stroke="#231f20" stroke-width="0.15" textLength="9.98" lengthAdjust="spacingAndGlyphs">29</text>
<text x="408.98" y="583.20" font-size="8.10" fill="#231f20" stroke="#231f20" stroke-width="0.15" textLength="9.46" lengthAdjust="spacingAndGlyphs">30</text>
<text x="435.11" y="583.20" font-size="8.10" fill="#231f20" stroke="#231f20" stroke-width="0.15" textLength="8.35" lengthAdjust="spacingAndGlyphs">31</text>
<text x="459.89" y="583.20" font-size="8.10" fill="#231f20" stroke="#231f20" stroke-width="0.15" textLength="9.13" lengthAdjust="spacingAndGlyphs">32</text>
<text x="478.19" y="583.20" font-size="8.10" fill="#231f20" stroke="#231f20" stroke-width="0.15" textLength="9.07" lengthAdjust="spacingAndGlyphs">33</text>
<rect x="460.60" y="476.00" width="4.40" height="4.60" fill="#135a8e" />
<text x="468.10" y="481.20" font-size="7.60" fill="#231f20" stroke="#231f20" stroke-width="0.15" textLength="28.02" lengthAdjust="spacingAndGlyphs">Baseline</text>
<rect x="460.60" y="486.10" width="4.40" height="4.60" fill="#c4122f" />
<text x="468.10" y="491.40" font-size="7.60" fill="#231f20" stroke="#231f20" stroke-width="0.15" textLength="39.08" lengthAdjust="spacingAndGlyphs">Progression</text>
<text x="488.96" y="583.20" font-size="8.10" fill="#231f20" stroke="#231f20" stroke-width="0.15" textLength="23.22" lengthAdjust="spacingAndGlyphs">Pat-N°</text>
<text transform="translate(269.80,569.00) rotate(-90)" x="-0.60" y="0" font-size="9.60" fill="#231f20" stroke="#231f20" stroke-width="0.15" textLength="80.25" lengthAdjust="spacingAndGlyphs">Fold difference in <tspan font-style="italic">IGF1R</tspan></text>
<text transform="translate(281.30,569.90) rotate(-90)" x="-0.47" y="0" font-size="9.60" fill="#231f20" stroke="#231f20" stroke-width="0.15" textLength="81.45" lengthAdjust="spacingAndGlyphs">(normalized to baseline)</text>
<rect x="0.5" y="0.5" width="519" height="589" fill="none" stroke="#000" stroke-width="1"/>
</svg>
</body></html>
